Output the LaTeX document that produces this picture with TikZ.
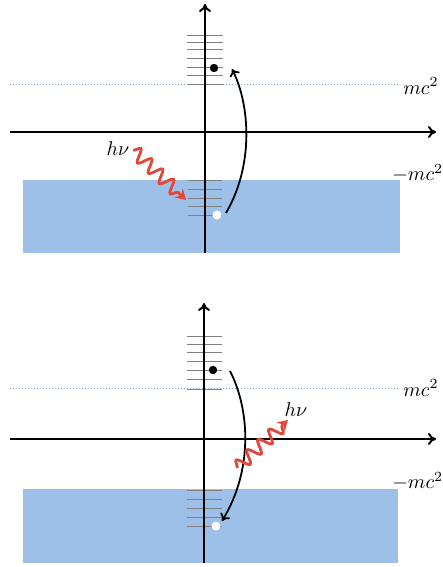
\documentclass[tikz,border=0pt]{standalone}
\usetikzlibrary{arrows.meta,decorations.pathmorphing}
\definecolor{mar}{RGB}{157,192,232}
\definecolor{fotonrojo}{RGB}{226,72,58}
\definecolor{punteado}{RGB}{140,170,205}
\begin{document}
\begin{tikzpicture}[x=0.5pt, y=-0.5pt,
    eje/.style={line width=1pt, -{To[length=4pt,width=6pt]}},
    nivel/.style={black!50, line width=0.5pt},
    limite/.style={punteado, dash pattern=on 0.6pt off 0.9pt, line width=0.5pt},
    salto/.style={line width=0.9pt},
    foton/.style={fotonrojo, line width=1.4pt, -{Stealth[length=5pt,width=6pt]},
        decorate, decoration={snake, amplitude=3.2pt, segment length=7.5pt,
        post length=4pt}},
    particula/.style={circle, fill=black, inner sep=0pt, minimum size=4.2pt},
    hueco/.style={circle, fill=white, inner sep=0pt, minimum size=4.5pt}]
  \useasboundingbox (0,0) rectangle (443,567);

  % ---------- Panel superior: absorción ----------
  % Mar de Dirac
  \fill[mar] (23,180) rectangle (400,253);
  % Línea mc^2
  \draw[limite] (10,85) -- (400,85);
  % Niveles
  \foreach \y in {36,43,50,59,68,76,85} \draw[nivel] (187,\y) -- (223,\y);
  \foreach \y in {180,189,198,206,215} \draw[nivel] (188,\y) -- (222,\y);
  % Ejes
  \draw[eje] (205,253) -- (205,4);
  \draw[eje] (10,132) -- (436,132);
  % Electrón y hueco
  \node[particula] (e1) at (214,68) {};
  \node[hueco] (h1) at (217,215) {};
  \coordinate (s1) at (226,213);
  \coordinate (t1) at (232,69);
  \draw[salto, -{To[length=3.5pt,width=5.5pt]}] (s1) .. controls (254,165) and (250,105) .. (t1);
  % Fotón incidente
  \node (hv1) at (118,149) {$h\nu$};
  \coordinate (f1a) at (133,150);
  \coordinate (f1b) at (186,200);
  \draw[foton] (f1a) -- (f1b);
  % Etiquetas
  \node[anchor=west, inner sep=0pt] (mc1) at (403,86) {$mc^2$};
  \node[anchor=west, inner sep=0pt] (nmc1) at (392,173) {$-mc^2$};

  % ---------- Panel inferior: emisión ----------
  % Mar de Dirac
  \fill[mar] (23,489) rectangle (398,563);
  % Línea mc^2
  \draw[limite] (10,388) -- (400,388);
  % Niveles
  \foreach \y in {336,344,352,361,370,379,389} \draw[nivel] (187,\y) -- (222,\y);
  \foreach \y in {490,499,508,517,526} \draw[nivel] (187,\y) -- (222,\y);
  % Ejes
  \draw[eje] (204,563) -- (204,303);
  \draw[eje] (10,439) -- (436,439);
  % Electrón y hueco
  \node[particula] (e2) at (213,370) {};
  \node[hueco] (h2) at (216,526) {};
  \coordinate (s2) at (230,371);
  \coordinate (t2) at (222,521);
  \draw[salto, -{To[length=3.5pt,width=5.5pt]}] (s2) .. controls (250,410) and (253,470) .. (t2);
  % Fotón emitido
  \node (hv2) at (296,410) {$h\nu$};
  \coordinate (f2a) at (237,468);
  \coordinate (f2b) at (288,420);
  \draw[foton] (f2a) -- (f2b);
  % Etiquetas
  \node[anchor=west, inner sep=0pt] (mc2) at (403,388) {$mc^2$};
  \node[anchor=west, inner sep=0pt] (nmc2) at (392,481) {$-mc^2$};
\end{tikzpicture}
\end{document}
